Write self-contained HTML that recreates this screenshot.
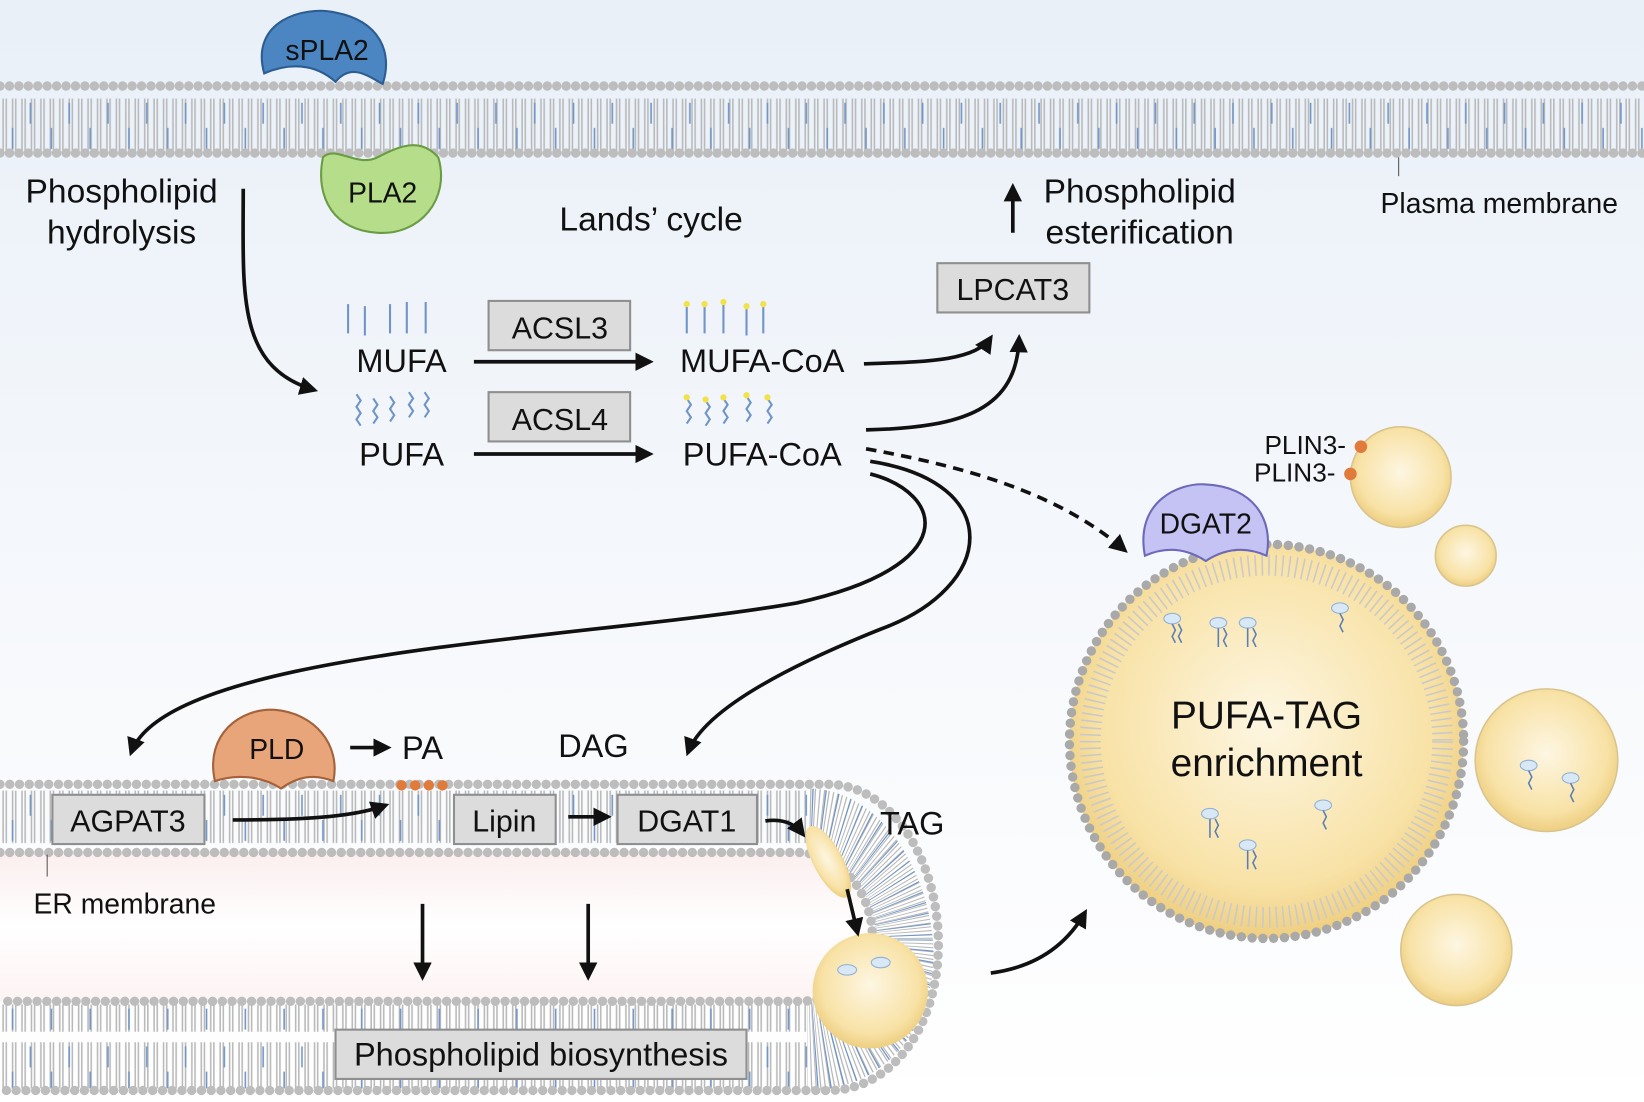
<!DOCTYPE html>
<html><head><meta charset="utf-8"><style>
html,body{margin:0;padding:0;background:#fff}
svg{display:block}
text{font-family:"Liberation Sans",Arial,sans-serif;fill:#111}
</style></head><body>
<svg width="1644" height="1102" viewBox="0 0 1568 1051" preserveAspectRatio="none" xmlns="http://www.w3.org/2000/svg">
<defs>
<linearGradient id="bg" x1="0" y1="0" x2="0" y2="1">
<stop offset="0" stop-color="#e9f0f8"/><stop offset="0.6" stop-color="#f7f9fc"/><stop offset="1" stop-color="#ffffff"/></linearGradient>
<linearGradient id="lumen" x1="0" y1="0" x2="0" y2="1">
<stop offset="0" stop-color="#fbeeee"/><stop offset="0.5" stop-color="#ffffff"/><stop offset="1" stop-color="#fdf3f3"/></linearGradient>
<radialGradient id="ld" cx="0.5" cy="0.45" r="0.6">
<stop offset="0" stop-color="#fdf6e2"/><stop offset="0.7" stop-color="#f8e2a6"/><stop offset="1" stop-color="#eac773"/></radialGradient>
<pattern id="tails" width="9" height="60" patternUnits="userSpaceOnUse">
<line x1="3" y1="0" x2="3" y2="24" stroke="#b9b9b9" stroke-width="1.5"/>
<line x1="6" y1="0" x2="6" y2="24" stroke="#b9b9b9" stroke-width="1.5"/>
<line x1="3" y1="34" x2="3" y2="60" stroke="#b9b9b9" stroke-width="1.5"/>
<line x1="6" y1="34" x2="6" y2="60" stroke="#b9b9b9" stroke-width="1.5"/>
</pattern>
<pattern id="btails" width="37" height="60" patternUnits="userSpaceOnUse">
<line x1="12" y1="2" x2="12" y2="22" stroke="#6f95c8" stroke-width="1.5"/>
<line x1="29" y1="38" x2="29" y2="58" stroke="#6f95c8" stroke-width="1.5"/>
</pattern>
<clipPath id="tip"><path d="M770,752 C840,752 885,830 890,900 C895,970 850,1040 770,1040 L770,955 C805,955 835,930 835,893 C835,855 805,812 770,812 Z"/></clipPath>
<marker id="ah" viewBox="0 0 10 10" refX="8" refY="5" markerWidth="5" markerHeight="5" orient="auto"><path d="M0,0 L10,5 L0,10 z" fill="#111"/></marker>
</defs>
<rect width="1568" height="1051" fill="url(#bg)"/>

<!-- plasma membrane -->
<rect x="0" y="87" width="1568" height="60" fill="url(#tails)"/>
<rect x="0" y="87" width="1568" height="60" fill="url(#btails)"/>
<line x1="0" y1="82" x2="1568" y2="82" stroke="#bdbdbd" stroke-width="9" stroke-dasharray="0 9" stroke-linecap="round"/>
<line x1="0" y1="146" x2="1568" y2="146" stroke="#bdbdbd" stroke-width="9" stroke-dasharray="0 9" stroke-linecap="round"/>
<line x1="1334" y1="150" x2="1334" y2="168" stroke="#555" stroke-width="1"/>

<!-- ER -->
<path d="M0,812 H760 C805,812 835,855 835,893 C835,930 805,955 760,955 H0 Z" fill="url(#lumen)"/>
<rect x="0" y="752" width="770" height="58" fill="url(#tails)"/>
<rect x="0" y="752" width="770" height="58" fill="url(#btails)"/>
<rect x="0" y="958" width="770" height="80" fill="url(#tails)"/>
<rect x="0" y="958" width="770" height="80" fill="url(#btails)"/>
<g clip-path="url(#tip)">
<rect x="760" y="740" width="140" height="310" fill="#ffffff"/>
<circle cx="770" cy="896" r="140" fill="none" stroke="#b9b9b9" stroke-width="160" stroke-dasharray="1.3 3"/>
<circle cx="770" cy="896" r="140" fill="none" stroke="#6f95c8" stroke-width="160" stroke-dasharray="1.3 11"/>
</g>
<path d="M0,748 H790 C850,748 895,820 895,900 C895,980 850,1040 790,1040 H0" fill="none" stroke="#bdbdbd" stroke-width="9" stroke-dasharray="0 9.3" stroke-linecap="round"/>
<path d="M0,813 H760 C805,813 832,855 832,893 C832,930 805,955 760,955 H0" fill="none" stroke="#bdbdbd" stroke-width="9" stroke-dasharray="0 9.3" stroke-linecap="round"/>
<circle cx="830" cy="945" r="55" fill="url(#ld)"/>
<ellipse cx="790" cy="822" rx="14" ry="38" transform="rotate(-28 790 822)" fill="url(#ld)"/>
<line x1="45" y1="815" x2="45" y2="836" stroke="#555" stroke-width="1"/>

<!-- big droplet -->
<circle cx="1208" cy="707" r="188" fill="url(#ld)"/>
<circle cx="1208" cy="707" r="168" fill="none" stroke="#c9c9c9" stroke-width="20" stroke-dasharray="1.5 5"/>
<circle cx="1208" cy="707" r="188" fill="none" stroke="#a9a9a9" stroke-width="9" stroke-dasharray="0 10.3" stroke-linecap="round"/>
<circle cx="1336" cy="455" r="48" fill="url(#ld)" stroke="#d8c58e" stroke-width="1.5"/>
<circle cx="1398" cy="530" r="29" fill="url(#ld)" stroke="#d8c58e" stroke-width="1.5"/>
<circle cx="1475" cy="725" r="68" fill="url(#ld)" stroke="#d8c58e" stroke-width="1.5"/>
<circle cx="1389" cy="906" r="53" fill="url(#ld)" stroke="#d8c58e" stroke-width="1.5"/>
<g fill="#d8e8f6" stroke="#8fb0d2">
<ellipse cx="1118" cy="590" rx="8" ry="5"/><ellipse cx="1162" cy="594" rx="8" ry="5"/><ellipse cx="1190" cy="594" rx="8" ry="5"/><ellipse cx="1278" cy="580" rx="8" ry="5"/>
<ellipse cx="1154" cy="776" rx="8" ry="5"/><ellipse cx="1262" cy="768" rx="8" ry="5"/><ellipse cx="1190" cy="806" rx="8" ry="5"/>
<ellipse cx="1458" cy="730" rx="8" ry="5"/><ellipse cx="1498" cy="742" rx="8" ry="5"/>
<ellipse cx="808" cy="925" rx="9" ry="5"/><ellipse cx="840" cy="918" rx="9" ry="5"/>
</g>
<g stroke="#5b7fb3" stroke-width="1.5" fill="none">
<path d="M1118,595 l3,6 -3,6 3,6 M1124,595 l3,6 -3,6 3,6 M1162,599 v18 M1167,599 l3,6 -3,6 3,6 M1190,599 v18 M1195,599 l3,6 -3,6 3,6 M1278,585 l3,6 -3,6 3,6 M1154,781 v18 M1159,781 l3,6 -3,6 3,6 M1262,773 l3,6 -3,6 3,6 M1190,811 v18 M1195,811 l3,6 -3,6 3,6 M1458,735 l3,6 -3,6 3,6 M1498,747 l3,6 -3,6 3,6"/>
</g>
<circle cx="1298" cy="426" r="6" fill="#e07b3b"/><circle cx="1288" cy="452" r="6" fill="#e07b3b"/>
<text x="1206" y="433" font-size="25">PLIN3-</text>
<text x="1196" y="459" font-size="25">PLIN3-</text>

<!-- proteins -->
<path d="M252,70 C238,20 290,5 320,12 C362,20 375,50 365,80 C350,72 335,60 320,78 C300,60 275,60 252,70 Z" fill="#4b86c3" stroke="#2c5d92" stroke-width="2"/>
<text x="312" y="57" font-size="27" text-anchor="middle">sPLA2</text>
<path d="M308,150 C320,138 340,160 360,150 C380,140 400,130 418,150 C430,190 400,225 360,222 C320,220 300,190 308,150 Z" fill="#b5dd8a" stroke="#6a9c45" stroke-width="2"/>
<text x="365" y="193" font-size="27" text-anchor="middle">PLA2</text>
<path d="M205,745 C195,700 230,675 262,677 C300,680 325,710 318,745 C300,738 285,740 268,752 C250,740 225,738 205,745 Z" fill="#e8a57a" stroke="#a4613a" stroke-width="2"/>
<text x="264" y="724" font-size="27" text-anchor="middle">PLD</text>
<path d="M1092,530 C1082,478 1125,460 1150,462 C1195,464 1215,495 1208,530 C1190,522 1170,522 1150,535 C1130,522 1110,522 1092,530 Z" fill="#c5c3f3" stroke="#6d69b8" stroke-width="2"/>
<text x="1150" y="509" font-size="27" text-anchor="middle">DGAT2</text>
<g fill="#e07b3b"><circle cx="383" cy="749" r="5"/><circle cx="396" cy="749" r="5"/><circle cx="409" cy="749" r="5"/><circle cx="422" cy="749" r="5"/></g>

<!-- boxes -->
<g fill="#dcdcdc" stroke="#8f8f8f" stroke-width="2">
<rect x="466" y="287" width="135" height="47"/>
<rect x="466" y="374" width="135" height="47"/>
<rect x="894" y="251" width="145" height="47"/>
<rect x="50" y="758" width="145" height="47"/>
<rect x="433" y="758" width="97" height="47"/>
<rect x="589" y="758" width="133" height="47"/>
<rect x="320" y="982" width="392" height="47"/>
</g>
<g font-size="29" text-anchor="middle">
<text x="534" y="323">ACSL3</text>
<text x="534" y="410">ACSL4</text>
<text x="966" y="286">LPCAT3</text>
<text x="122" y="793">AGPAT3</text>
<text x="481" y="793">Lipin</text>
<text x="655" y="793">DGAT1</text>
<text x="516" y="1016" font-size="31">Phospholipid biosynthesis</text>
</g>

<!-- labels -->
<g font-size="31">
<text x="116" y="193" text-anchor="middle" font-size="32">Phospholipid</text>
<text x="116" y="232" text-anchor="middle" font-size="32">hydrolysis</text>
<text x="621" y="220" text-anchor="middle" font-size="32">Lands’ cycle</text>
<text x="1087" y="193" text-anchor="middle" font-size="32">Phospholipid</text>
<text x="1087" y="232" text-anchor="middle" font-size="32">esterification</text>
<text x="383" y="355" text-anchor="middle">MUFA</text>
<text x="383" y="444" text-anchor="middle">PUFA</text>
<text x="727" y="355" text-anchor="middle">MUFA-CoA</text>
<text x="727" y="444" text-anchor="middle">PUFA-CoA</text>
<text x="403" y="724" text-anchor="middle">PA</text>
<text x="566" y="722" text-anchor="middle">DAG</text>
<text x="870" y="796" text-anchor="middle">TAG</text>
<text x="1208" y="695" text-anchor="middle" font-size="37">PUFA-TAG</text>
<text x="1208" y="740" text-anchor="middle" font-size="37">enrichment</text>
</g>
<text x="1430" y="203" font-size="27" text-anchor="middle">Plasma membrane</text>
<text x="119" y="871" font-size="27" text-anchor="middle">ER membrane</text>

<!-- fatty acid squiggles -->
<g stroke="#6f95c8" stroke-width="2" fill="none">
<path d="M332,290 v28 M348,292 v28 M372,290 v28 M388,288 v30 M406,288 v30"/>
<path d="M340,376 l4,6 -4,6 4,6 -4,6 4,6 M356,380 l4,6 -4,6 4,6 -4,6 M372,378 l4,6 -4,6 4,6 -4,6 M390,374 l4,6 -4,6 4,6 -4,6 M405,374 l4,6 -4,6 4,6 -4,6"/>
<path d="M655,290 v28 M672,290 v28 M690,288 v30 M712,292 v28 M728,290 v28"/>
<path d="M655,380 l4,6 -4,6 4,6 -4,6 M673,382 l4,6 -4,6 4,6 -4,6 M690,380 l4,6 -4,6 4,6 -4,6 M712,378 l4,6 -4,6 4,6 -4,6 M732,380 l4,6 -4,6 4,6 -4,6"/>
</g>
<g fill="#f1e14a"><circle cx="655" cy="290" r="3"/><circle cx="672" cy="290" r="3"/><circle cx="690" cy="288" r="3"/><circle cx="712" cy="292" r="3"/><circle cx="728" cy="290" r="3"/>
<circle cx="655" cy="379" r="3"/><circle cx="673" cy="381" r="3"/><circle cx="690" cy="379" r="3"/><circle cx="712" cy="377" r="3"/><circle cx="732" cy="379" r="3"/></g>

<!-- arrows -->
<g stroke="#111" stroke-width="3.5" fill="none" marker-end="url(#ah)">
<path d="M232,180 C232,280 225,350 300,372"/>
<path d="M452,345 H620"/>
<path d="M452,433 H620"/>
<path d="M824,347 C880,345 930,345 945,322"/>
<path d="M826,410 C920,408 970,390 972,322"/>
<path d="M966,222 V178"/>
<path d="M830,452 C900,470 920,540 760,575 C560,610 160,620 125,718"/>
<path d="M830,440 C960,460 950,560 840,600 C740,640 670,680 656,718"/>
<path d="M826,428 C920,445 1010,470 1073,525" stroke-dasharray="10 7"/>
<path d="M334,713 H370"/>
<path d="M222,782 C300,782 340,778 368,768"/>
<path d="M542,779 H580"/>
<path d="M730,783 C750,780 760,788 766,796"/>
<path d="M808,848 L818,890"/>
<path d="M403,862 V932"/>
<path d="M561,862 V932"/>
<path d="M945,928 C990,922 1018,900 1035,870"/>
</g>
</svg>
</body></html>
